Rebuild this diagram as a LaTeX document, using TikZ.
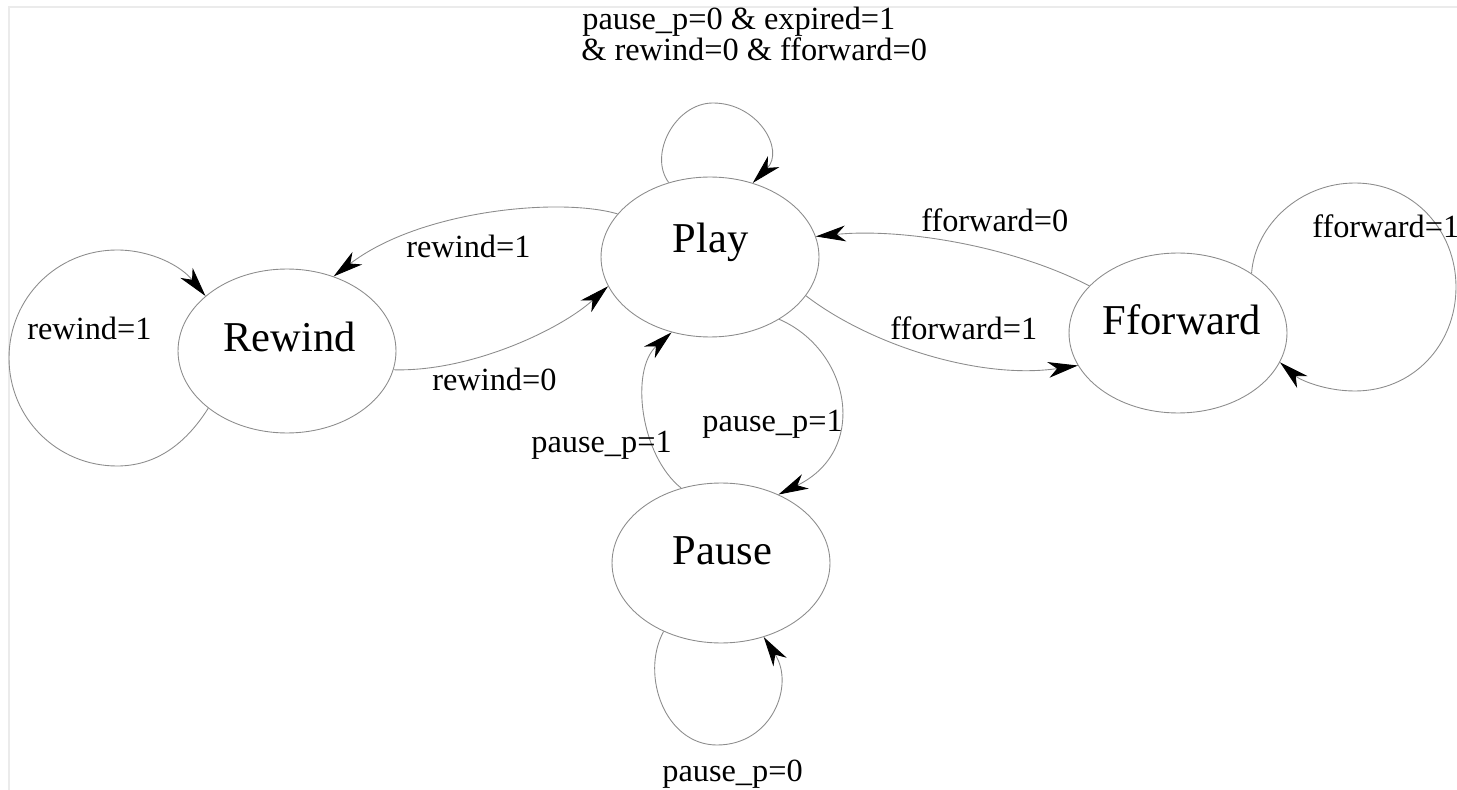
\documentclass[tikz,border=0pt]{standalone}
\usepackage{fontspec}
\setmainfont{Liberation Serif}
\usetikzlibrary{arrows.meta,shapes.geometric}
\begin{document}
\begin{tikzpicture}[x=0.02cm,y=-0.02cm,
  state/.style={ellipse,draw=black!45,line width=0.5pt,minimum width=4.36cm,minimum height=3.2cm,inner sep=0pt},
  edge/.style={draw=black!45,line width=0.5pt,-{Stealth[length=17pt,width=9pt,inset=5pt,color=black]}},
  lbl/.style={anchor=base west,inner sep=0pt,font=\fontsize{18.4}{22}\selectfont},
  sname/.style={anchor=base,inner sep=0pt,font=\fontsize{24.2}{29}\selectfont}]
\useasboundingbox (0,0) rectangle (1457,790);
\draw[black!8,line width=0.6pt] (9,790) -- (9,7) -- (1457,7);

% states
\node[state] (play) at (710,257) {};
\node[state,minimum height=3.28cm] (rewind) at (287,351) {};
\node[state] (fforward) at (1178,333) {};
\node[state] (pause) at (721,563) {};

\node[sname] (tplay) at (710.5,253) {Play};
\node[sname] (trewind) at (289.5,352) {Rewind};
\node[sname] (tfforward) at (1182,335) {Fforward};
\node[sname] (tpause) at (722.5,564) {Pause};

% transitions
\draw[edge] (play.155) .. controls (560,197) and (420,210) .. (rewind.58);
\draw[edge] (rewind.-10) .. controls (470,372) and (560,330) .. (play.196);
\draw[edge] (play.-22) .. controls (870,345) and (980,380) .. (fforward.198);
\draw[edge] (fforward.152) .. controls (1010,245) and (900,228) .. (play.11);
\draw[edge] (play.-42) .. controls (850,350) and (870,450) .. (pause.50);
\draw[edge] (pause.118) .. controls (640,455) and (630,370) .. (play.243);

% self loops
\draw[edge] (play.119) .. controls (648,155) and (675,103) .. (713,103)
  .. controls (758,103) and (785,150) .. (play.60);
\draw[edge] (pause.230) .. controls (640,675) and (665,745) .. (717,745)
  .. controls (772,745) and (795,685) .. (pause.-60);
\draw[edge] (rewind.216) .. controls (185,445) and (155,466) .. (117,466)
  .. controls (57,466) and (9,418) .. (9,358)
  .. controls (9,298) and (57,250) .. (117,250)
  .. controls (150,250) and (180,265) .. (rewind.146);
\draw[edge] (fforward.39) .. controls (1255,225) and (1300,183) .. (1355,183)
  .. controls (1413,183) and (1456,230) .. (1456,287)
  .. controls (1456,345) and (1413,391) .. (1355,391)
  .. controls (1325,391) and (1300,380) .. (fforward.-16);

% labels
\node[lbl] (l1) at (582,30) {pause\_p=0 \& expired=1};
\node[lbl] (l2) at (581,61) {\& rewind=0 \& fforward=0};
\node[lbl] (l3) at (406,258) {rewind=1};
\node[lbl] (l4) at (432,391) {rewind=0};
\node[lbl] (l5) at (27,340) {rewind=1};
\node[lbl] (l6) at (921,232) {fforward=0};
\node[lbl] (l7) at (890,340) {fforward=1};
\node[lbl] (l8) at (1312,238) {fforward=1};
\node[lbl] (l9) at (531,452) {pause\_p=1};
\node[lbl] (l10) at (702,432) {pause\_p=1};
\node[lbl] (l11) at (662,781) {pause\_p=0};
\end{tikzpicture}
\end{document}
